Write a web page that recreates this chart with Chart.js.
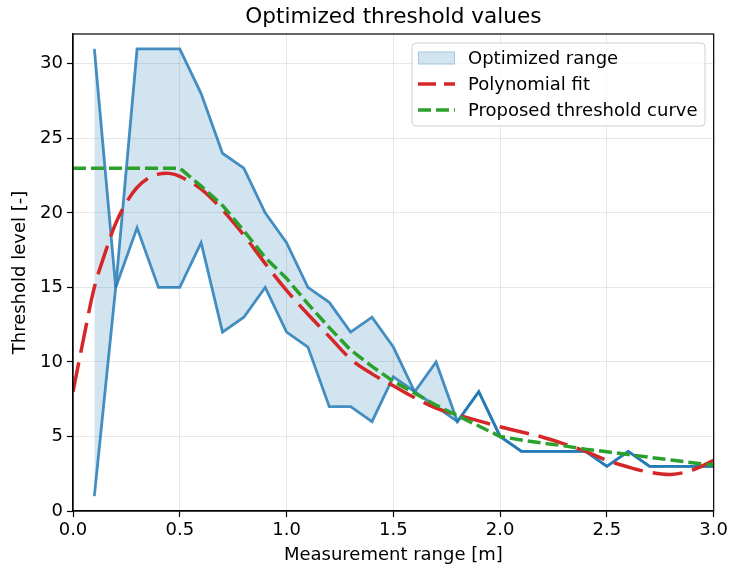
<!DOCTYPE html>
<html>
<head>
<meta charset="utf-8">
<script src="https://cdn.jsdelivr.net/npm/chart.js@4.4.0/dist/chart.umd.min.js"></script>
<style>
  html, body { margin: 0; padding: 0; background: #ffffff; }
  #wrap { width: 731px; height: 573px; }
</style>
</head>
<body>
<div id="wrap"><canvas id="c" width="731" height="573"></canvas></div>
<script>
// ---- data ----
const rangeX = [0.1,0.2,0.3,0.4,0.5,0.6,0.7,0.8,0.9,1.0,1.1,1.2,1.3,1.4,1.5,1.6,1.7,1.8,1.9,2.0,2.1,2.2,2.3,2.4,2.5,2.6,2.7,2.8,2.9,3.0];
const rangeUpper = [31,15,31,31,31,28,24,23,20,18,15,14,12,13,11,8,10,6,8,5,4,4,4,4,3,4,3,3,3,3];
const rangeLower = [1,15,19,15,15,18,12,13,15,12,11,7,7,6,9,8,7,6,8,5,4,4,4,4,3,4,3,3,3,3];

const fitX = [0,0.05,0.1,0.15,0.2,0.25,0.3,0.35,0.4,0.45,0.5,0.6,0.7,0.8,0.9,1.0,1.1,1.2,1.3,1.4,1.5,1.6,1.7,1.8,1.9,2.0,2.1,2.2,2.3,2.4,2.5,2.6,2.7,2.8,2.9,3.0];
const fitY = [8.0,11.6,15.0,17.3,19.3,20.7,21.7,22.3,22.6,22.65,22.45,21.6,20.2,18.5,16.6,14.8,13.2,11.7,10.2,9.2,8.4,7.6,6.9,6.45,6.05,5.65,5.3,4.95,4.5,4.0,3.4,2.95,2.6,2.45,2.75,3.4];

const curveX = [0,0.1,0.2,0.3,0.4,0.5,0.6,0.7,0.8,0.9,1.0,1.1,1.2,1.3,1.4,1.5,1.6,1.7,1.8,1.9,2.0,2.1,2.2,2.3,2.4,2.5,2.6,2.7,2.8,2.9,3.0];
const curveY = [23,23,23,23,23,23,21.8,20.5,18.8,17.0,15.6,13.9,12.3,10.8,9.7,8.7,7.9,7.1,6.4,5.7,5.0,4.76,4.55,4.37,4.15,3.97,3.79,3.6,3.42,3.24,3.08];

const xTicks = [0.0,0.5,1.0,1.5,2.0,2.5,3.0];
const yTicks = [0,5,10,15,20,25,30];

const titleText = 'Optimized threshold values';
const xLabel = 'Measurement range [m]';
const yLabel = 'Threshold level [-]';
const legendLabels = ['Optimized range','Polynomial fit','Proposed threshold curve'];

// ---- helpers ----
const pts = (xs, ys) => xs.map((x, i) => ({x: x, y: ys[i]}));
const FONT = "'DejaVu Sans', sans-serif";
const BLUE_LINE = 'rgba(31,119,180,0.82)';
const BLUE_FILL = 'rgba(31,119,180,0.2)';
const RED = '#d62728';
const GREEN = '#2ca02c';

const framePlugin = {
  id: 'frame',
  afterDraw(chart) {
    const {ctx, chartArea: a} = chart;
    ctx.save();
    // spines
    ctx.strokeStyle = '#000';
    ctx.lineWidth = 1.2;
    ctx.strokeRect(a.left, a.top, a.right - a.left, a.bottom - a.top);
    // title
    ctx.fillStyle = '#000';
    ctx.font = '21.6px ' + FONT;
    ctx.textAlign = 'center';
    ctx.textBaseline = 'middle';
    ctx.fillText(titleText, (a.left + a.right) / 2, 17);
    // legend
    const bx = 412, by = 43, bw = 293, bh = 83, r = 4;
    ctx.beginPath();
    ctx.moveTo(bx + r, by);
    ctx.lineTo(bx + bw - r, by);
    ctx.arcTo(bx + bw, by, bx + bw, by + r, r);
    ctx.lineTo(bx + bw, by + bh - r);
    ctx.arcTo(bx + bw, by + bh, bx + bw - r, by + bh, r);
    ctx.lineTo(bx + r, by + bh);
    ctx.arcTo(bx, by + bh, bx, by + bh - r, r);
    ctx.lineTo(bx, by + r);
    ctx.arcTo(bx, by, bx + r, by, r);
    ctx.closePath();
    ctx.fillStyle = 'rgba(255,255,255,0.8)';
    ctx.fill();
    ctx.strokeStyle = '#d0d0d0';
    ctx.lineWidth = 1;
    ctx.stroke();

    const rows = [58, 84, 110];
    const hx0 = 418, hx1 = 455, tx = 468;
    // patch
    ctx.fillStyle = BLUE_FILL;
    ctx.fillRect(hx0, rows[0] - 6.5, hx1 - hx0, 13);
    ctx.strokeStyle = 'rgba(31,119,180,0.25)';
    ctx.lineWidth = 1;
    ctx.strokeRect(hx0 + 0.5, rows[0] - 6, hx1 - hx0 - 1, 12);
    // red dashed
    ctx.lineWidth = 3.5;
    ctx.lineCap = 'butt';
    ctx.strokeStyle = RED;
    ctx.setLineDash([18, 8]);
    ctx.beginPath(); ctx.moveTo(hx0, rows[1]); ctx.lineTo(hx1, rows[1]); ctx.stroke();
    // green dashed
    ctx.strokeStyle = GREEN;
    ctx.setLineDash([13, 5]);
    ctx.beginPath(); ctx.moveTo(hx0, rows[2]); ctx.lineTo(hx1, rows[2]); ctx.stroke();
    ctx.setLineDash([]);
    // texts
    ctx.fillStyle = '#000';
    ctx.font = '18px ' + FONT;
    ctx.textAlign = 'left';
    ctx.textBaseline = 'middle';
    legendLabels.forEach((t, i) => ctx.fillText(t, tx, rows[i] + 1));
    ctx.restore();
  }
};

new Chart(document.getElementById('c'), {
  type: 'line',
  data: {
    datasets: [
      {
        label: 'upper',
        data: pts(rangeX, rangeUpper),
        borderColor: BLUE_LINE,
        backgroundColor: BLUE_FILL,
        borderWidth: 2.8,
        pointRadius: 0,
        tension: 0,
        fill: '+1',
        order: 2
      },
      {
        label: 'lower',
        data: pts(rangeX, rangeLower),
        borderColor: BLUE_LINE,
        borderWidth: 2.8,
        pointRadius: 0,
        tension: 0,
        fill: false,
        order: 3
      },
      {
        label: legendLabels[1],
        data: pts(fitX, fitY),
        borderColor: RED,
        borderWidth: 3.5,
        borderDash: [30, 10],
        pointRadius: 0,
        tension: 0.35,
        fill: false,
        order: 1
      },
      {
        label: legendLabels[2],
        data: pts(curveX, curveY),
        borderColor: GREEN,
        borderWidth: 3.5,
        borderDash: [13, 5],
        pointRadius: 0,
        tension: 0,
        fill: false,
        order: 0
      }
    ]
  },
  options: {
    responsive: false,
    animation: false,
    events: [],
    layout: { padding: { left: 0, right: 17, top: 34, bottom: 0 } },
    plugins: {
      legend: { display: false },
      title: { display: false },
      tooltip: { enabled: false },
      filler: { drawTime: 'beforeDatasetsDraw' }
    },
    scales: {
      x: {
        type: 'linear',
        min: 0,
        max: 3,
        afterFit(s) { s.height = 62; },
        afterBuildTicks(s) { s.ticks = xTicks.map(v => ({value: v})); },
        ticks: {
          color: '#000',
          font: { family: FONT, size: 18 },
          padding: 3,
          maxRotation: 0,
          callback: v => v.toFixed(1)
        },
        grid: {
          color: 'rgba(176,176,176,0.3)',
          lineWidth: 1,
          tickColor: '#000',
          tickLength: 6,
          tickWidth: 1.2
        },
        border: { display: true, color: '#000', width: 1.2 },
        title: {
          display: true,
          text: xLabel,
          color: '#000',
          font: { family: FONT, size: 18 },
          padding: { top: 0, bottom: 7 }
        }
      },
      y: {
        type: 'linear',
        min: 0,
        max: 32,
        afterFit(s) { s.width = 73; },
        afterBuildTicks(s) { s.ticks = yTicks.map(v => ({value: v})); },
        ticks: {
          color: '#000',
          font: { family: FONT, size: 18 },
          padding: 4,
          callback: v => String(v)
        },
        grid: {
          color: 'rgba(176,176,176,0.3)',
          lineWidth: 1,
          tickColor: '#000',
          tickLength: 6,
          tickWidth: 1.2
        },
        border: { display: true, color: '#000', width: 1.2 },
        title: {
          display: true,
          text: yLabel,
          color: '#000',
          font: { family: FONT, size: 18 },
          padding: { top: 10, bottom: 0 }
        }
      }
    }
  },
  plugins: [framePlugin]
});
</script>
</body>
</html>
